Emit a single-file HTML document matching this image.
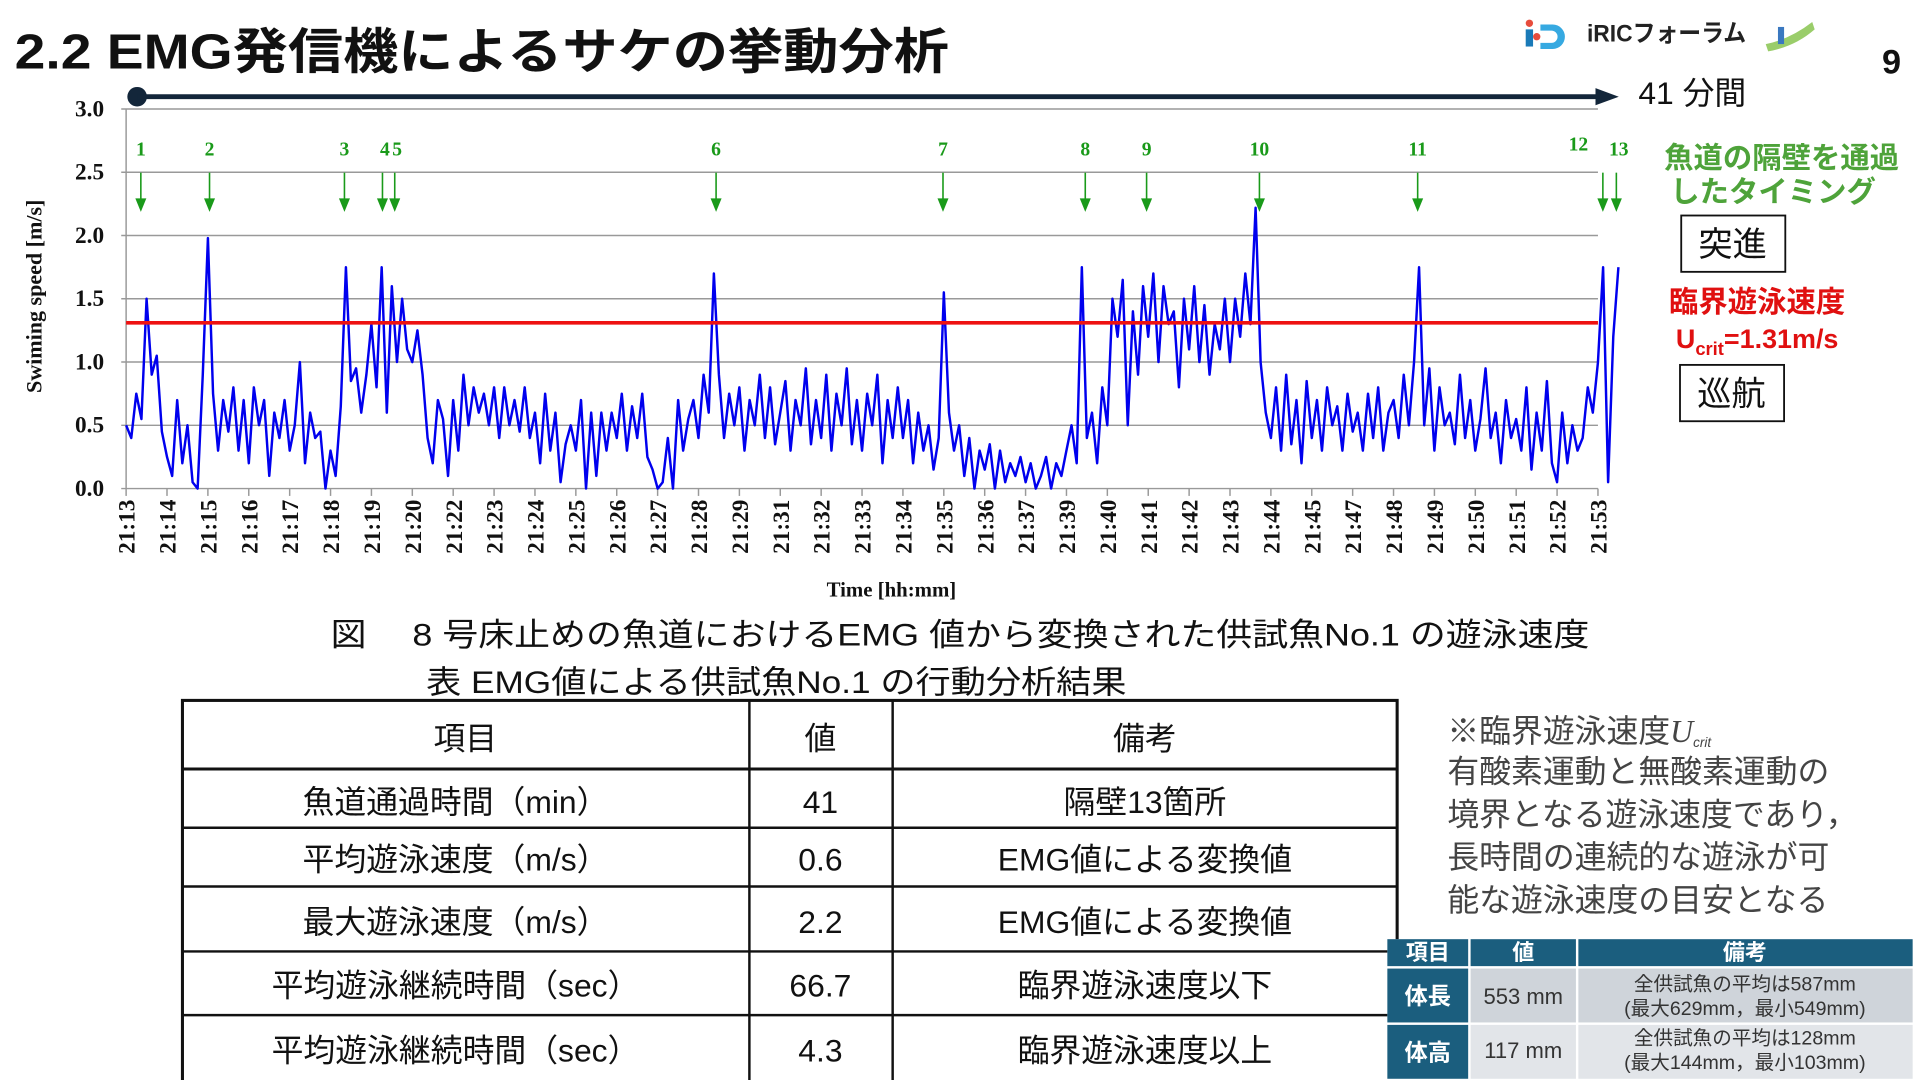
<!DOCTYPE html>
<html><head><meta charset="utf-8">
<style>
html,body{margin:0;padding:0;background:#fff;}
svg{display:block;}
.j{font-family:"Liberation Sans","Noto Sans CJK JP",sans-serif;}
.s{font-family:"Liberation Serif","Noto Serif CJK SC",serif;}
</style></head>
<body>
<svg id="page" width="1920" height="1080" viewBox="0 0 1568 882" xmlns="http://www.w3.org/2000/svg">
<rect width="1568" height="882" fill="#fff"/>
<text class="j" x="12" y="56" font-size="40" font-weight="bold" fill="#111" textLength="763" lengthAdjust="spacingAndGlyphs">2.2 EMG発信機によるサケの挙動分析</text>
<g>
<rect x="1246" y="24" width="6" height="14" fill="#1a7ab8"/><circle cx="1249" cy="19" r="3" fill="#e74c3c"/><circle cx="1255" cy="30" r="3" fill="#e74c3c"/>
<path d="M1258 20 h10 a10 10 0 0 1 0 20 h-10 v-5 h9 a5 5 0 0 0 0 -10 h-9z" fill="#36a9e1"/>
<text class="j" x="1296" y="34" font-size="20" font-weight="bold" fill="#222" textLength="130" lengthAdjust="spacingAndGlyphs">iRICフォーラム</text>
<path d="M1442 36 q20 -4 38 -18 l2 6 q-16 14 -38 18z" fill="#9acd6a"/><rect x="1452" y="22" width="5" height="14" fill="#3a78c0"/>
</g>
<text class="j" x="1537" y="60" font-size="28" font-weight="bold" fill="#111">9</text>
<g>
<circle cx="112" cy="79" r="8" fill="#13263a"/>
<line x1="112" y1="79" x2="1305" y2="79" stroke="#13263a" stroke-width="4"/>
<path d="M1303 72 L1322 79 L1303 86 Z" fill="#13263a"/>
</g>
<text class="j" x="1338" y="85" font-size="26" fill="#111">41 分間</text>

<g id="chart"></g>

<text class="j" x="1455" y="137" font-size="24" font-weight="bold" fill="#4ea33a" text-anchor="middle">魚道の隔壁を通過</text>
<text class="j" x="1448" y="165" font-size="24" font-weight="bold" fill="#4ea33a" text-anchor="middle">したタイミング</text>
<rect x="1373" y="176" width="85" height="46" fill="#fff" stroke="#111" stroke-width="1.5"/>
<text class="j" x="1415" y="209" font-size="28" text-anchor="middle" fill="#111">突進</text>
<text class="j" x="1435" y="255" font-size="24" font-weight="bold" fill="#e01010" text-anchor="middle">臨界遊泳速度</text>
<text class="j" x="1435" y="284" font-size="22" font-weight="bold" fill="#e01010" text-anchor="middle">U<tspan font-size="15" dy="6">crit</tspan><tspan dy="-6">=1.31m/s</tspan></text>
<rect x="1372" y="298" width="85" height="46" fill="#fff" stroke="#111" stroke-width="1.5"/>
<text class="j" x="1414" y="331" font-size="28" text-anchor="middle" fill="#111">巡航</text>

<text class="j" x="270" y="527" font-size="26" fill="#111" textLength="1028" lengthAdjust="spacingAndGlyphs">図　 8 号床止めの魚道におけるEMG 値から変換された供試魚No.1 の遊泳速度</text>
<text class="j" x="348" y="566" font-size="26" fill="#111" textLength="572" lengthAdjust="spacingAndGlyphs">表 EMG値による供試魚No.1 の行動分析結果</text>

<g class="j" font-size="26" fill="#111" text-anchor="middle">
<rect x="149" y="572" width="992" height="320" fill="none" stroke="#111" stroke-width="2.5"/>
<line x1="149" y1="628" x2="1141" y2="628" stroke="#111" stroke-width="2.5"/>
<line x1="149" y1="676" x2="1141" y2="676" stroke="#111" stroke-width="2"/>
<line x1="149" y1="724" x2="1141" y2="724" stroke="#111" stroke-width="2"/>
<line x1="149" y1="777" x2="1141" y2="777" stroke="#111" stroke-width="2"/>
<line x1="149" y1="829" x2="1141" y2="829" stroke="#111" stroke-width="2"/>
<line x1="612" y1="572" x2="612" y2="882" stroke="#111" stroke-width="2"/>
<line x1="729" y1="572" x2="729" y2="882" stroke="#111" stroke-width="2"/>
<text x="380" y="612">項目</text><text x="670" y="612">値</text><text x="935" y="612">備考</text>
<text x="372" y="664">魚道通過時間（min）</text><text x="670" y="664">41</text><text x="935" y="664">隔壁13箇所</text>
<text x="372" y="711">平均遊泳速度（m/s）</text><text x="670" y="711">0.6</text><text x="935" y="711">EMG値による変換値</text>
<text x="372" y="762">最大遊泳速度（m/s）</text><text x="670" y="762">2.2</text><text x="935" y="762">EMG値による変換値</text>
<text x="372" y="814">平均遊泳継続時間（sec）</text><text x="670" y="814">66.7</text><text x="935" y="814">臨界遊泳速度以下</text>
<text x="372" y="867">平均遊泳継続時間（sec）</text><text x="670" y="867">4.3</text><text x="935" y="867">臨界遊泳速度以上</text>
</g>

<g class="j" font-size="26" fill="#444">
<text x="1182" y="606">※臨界遊泳速度<tspan font-family="Liberation Serif,serif" font-style="italic">U</tspan><tspan font-size="11" font-style="italic" dy="4">crit</tspan></text>
<text x="1182" y="639">有酸素運動と無酸素運動の</text>
<text x="1182" y="674">境界となる遊泳速度であり，</text>
<text x="1182" y="709">長時間の連続的な遊泳が可</text>
<text x="1182" y="744">能な遊泳速度の目安となる</text>
</g>

<g class="j" text-anchor="middle">
<rect x="1133" y="767" width="429" height="115" fill="#fff"/>
<rect x="1133" y="767" width="66" height="22" fill="#1b5e7e"/><rect x="1201" y="767" width="86" height="22" fill="#1b5e7e"/><rect x="1289" y="767" width="273" height="22" fill="#1b5e7e"/>
<text x="1166" y="784" font-size="18" font-weight="bold" fill="#fff">項目</text><text x="1244" y="784" font-size="18" font-weight="bold" fill="#fff">値</text><text x="1425" y="784" font-size="18" font-weight="bold" fill="#fff">備考</text>
<rect x="1133" y="791" width="66" height="44" fill="#1b5e7e"/><rect x="1201" y="791" width="86" height="44" fill="#cfd4da"/><rect x="1289" y="791" width="273" height="44" fill="#cfd4da"/>
<rect x="1133" y="837" width="66" height="44" fill="#1b5e7e"/><rect x="1201" y="837" width="86" height="44" fill="#e2e5e9"/><rect x="1289" y="837" width="273" height="44" fill="#e2e5e9"/>
<text x="1166" y="820" font-size="19" font-weight="bold" fill="#fff">体長</text><text x="1244" y="820" font-size="18" fill="#333">553 mm</text>
<text x="1425" y="809" font-size="16" fill="#333">全供試魚の平均は587mm</text><text x="1425" y="829" font-size="16" fill="#333">(最大629mm，最小549mm)</text>
<text x="1166" y="866" font-size="19" font-weight="bold" fill="#fff">体高</text><text x="1244" y="864" font-size="18" fill="#333">117 mm</text>
<text x="1425" y="853" font-size="16" fill="#333">全供試魚の平均は128mm</text><text x="1425" y="873" font-size="16" fill="#333">(最大144mm，最小103mm)</text>
</g>
</svg>
<script>
const xLabels=["21:13","21:14","21:15","21:16","21:17","21:18","21:19","21:20","21:22","21:23","21:24","21:25","21:26","21:27","21:28","21:29","21:31","21:32","21:33","21:34","21:35","21:36","21:37","21:39","21:40","21:41","21:42","21:43","21:44","21:45","21:47","21:48","21:49","21:50","21:51","21:52","21:53"];
const yTicks=[0,0.5,1.0,1.5,2.0,2.5,3.0];
const ucrit=1.31;
const passLabels=["1","2","3","4","5","6","7","8","9","10","11","12","13"];
const passPos=[0.36,2.04,5.34,6.27,6.57,14.43,19.98,23.46,24.96,27.72,31.59,36.12,36.45];
const sampleStep=0.125;
const speed=[
0.5,0.4,0.75,0.55,1.5,0.9,1.05,0.45,
0.25,0.1,0.7,0.2,0.5,0.05,0.0,0.9,
1.98,0.75,0.3,0.7,0.45,0.8,0.3,0.7,
0.2,0.8,0.5,0.7,0.1,0.6,0.4,0.7,
0.3,0.5,1.0,0.2,0.6,0.4,0.45,0.0,
0.3,0.1,0.65,1.75,0.85,0.95,0.6,0.9,
1.3,0.8,1.75,0.6,1.6,1.0,1.5,1.1,
1.0,1.25,0.9,0.4,0.2,0.7,0.55,0.1,
0.7,0.3,0.9,0.5,0.8,0.6,0.75,0.5,
0.8,0.4,0.8,0.5,0.7,0.45,0.8,0.4,
0.6,0.2,0.75,0.3,0.6,0.05,0.35,0.5,
0.3,0.7,0.0,0.6,0.1,0.6,0.3,0.6,
0.4,0.75,0.3,0.65,0.4,0.75,0.25,0.15,
0.0,0.05,0.4,0.0,0.7,0.3,0.55,0.7,
0.4,0.9,0.6,1.7,0.9,0.4,0.75,0.5,
0.8,0.3,0.7,0.5,0.9,0.4,0.8,0.35,
0.6,0.85,0.3,0.7,0.5,0.95,0.35,0.7,
0.4,0.9,0.3,0.75,0.5,0.95,0.35,0.7,
0.3,0.75,0.5,0.9,0.2,0.7,0.4,0.8,
0.4,0.7,0.2,0.6,0.3,0.5,0.15,0.4,
1.55,0.6,0.3,0.5,0.1,0.4,0.0,0.3,
0.15,0.35,0.0,0.3,0.05,0.2,0.1,0.25,
0.05,0.2,0.0,0.1,0.25,0.0,0.2,0.1,
0.3,0.5,0.2,1.75,0.4,0.6,0.2,0.8,
0.5,1.5,1.2,1.65,0.5,1.4,0.9,1.6,
1.2,1.7,1.0,1.6,1.3,1.4,0.8,1.5,
1.1,1.6,1.0,1.45,0.9,1.3,1.1,1.5,
1.0,1.5,1.2,1.7,1.3,2.22,1.0,0.6,
0.4,0.8,0.3,0.9,0.35,0.7,0.2,0.85,
0.4,0.7,0.3,0.8,0.5,0.65,0.3,0.75,
0.45,0.6,0.3,0.75,0.4,0.8,0.3,0.6,
0.7,0.4,0.9,0.5,1.0,1.75,0.5,0.95,
0.3,0.8,0.5,0.6,0.35,0.9,0.4,0.7,
0.3,0.55,0.95,0.4,0.6,0.2,0.7,0.4,
0.55,0.3,0.8,0.15,0.6,0.3,0.85,0.2,
0.05,0.6,0.2,0.5,0.3,0.4,0.8,0.6,
1.0,1.75,0.05,1.2,1.75];

const NS="http://www.w3.org/2000/svg";
const g=document.getElementById('chart');
const L=103,R=1305,T=89,B=399;
const xs=i=>L+(R-L)*i/(xLabels.length-1);
const ys=v=>B-(B-T)*v/3.0;
function mk(tag,attrs,parent){const e=document.createElementNS(NS,tag);for(const k in attrs)e.setAttribute(k,attrs[k]);(parent||g).appendChild(e);return e;}

yTicks.forEach(v=>{
  const ln=mk('line',{x1:L-4,x2:R,y1:ys(v),y2:ys(v),stroke:'#999','stroke-width':1.2});
  
  
  const t=mk('text',{x:L-18,y:ys(v)+6,'font-size':19,'font-weight':'bold','text-anchor':'end',class:'s',fill:'#111'});
  t.textContent=v.toFixed(1);
  
  
});
mk('line',{x1:L,x2:L,y1:T,y2:B,stroke:'#999','stroke-width':1.2});
xLabels.forEach((lab,i)=>{
  const x=xs(i);
  mk('line',{x1:x,x2:x,y1:B,y2:B+6,stroke:'#999','stroke-width':1.2});
  const t=mk('text',{x:0,y:0,'font-size':19,'font-weight':'bold',class:'s',fill:'#111','text-anchor':'end',transform:`translate(${x+7},${B+9}) rotate(-90)`});
  t.textContent=lab;
  
  
});
const yt=mk('text',{x:0,y:0,'font-size':18,'font-weight':'bold',class:'s',fill:'#111','text-anchor':'middle',transform:`translate(34,${(T+B)/2-2}) rotate(-90)`});
yt.textContent='Swiming speed [m/s]';


const xt=mk('text',{x:728,y:487,'font-size':17,'font-weight':'bold',class:'s',fill:'#111','text-anchor':'middle'});
xt.textContent='Time [hh:mm]';



const pts=speed.map((v,i)=>xs(i*sampleStep).toFixed(1)+','+ys(v).toFixed(1)).join(' ');
const pl=mk('polyline',{points:pts,fill:'none',stroke:'#0000ee','stroke-width':2,'stroke-linejoin':'round'});



const uc=mk('line',{x1:L,x2:R,y1:ys(ucrit),y2:ys(ucrit),stroke:'#ee1111','stroke-width':3});



passPos.forEach((p,i)=>{
  const x=xs(p);
  const gg=mk('g',{});
  
  
  mk('line',{x1:x,x2:x,y1:141,y2:164,stroke:'#1a9a1a','stroke-width':1.3},gg);
  mk('path',{d:`M${x-4.5} 162 L${x+4.5} 162 L${x} 173 Z`,fill:'#1a9a1a'},gg);
  let lx=x, ly=127;
  if(passLabels[i]==='4'){lx=x+2;}
  if(passLabels[i]==='5'){lx=x+2;}
  if(passLabels[i]==='12'){lx=x-20;ly=123;}
  if(passLabels[i]==='13'){lx=x+2;}
  const t=mk('text',{x:lx,y:ly,'font-size':16,'font-weight':'bold',class:'s',fill:'#1a9a1a','text-anchor':'middle'},gg);
  t.textContent=passLabels[i];
});
</script>
</body></html>
